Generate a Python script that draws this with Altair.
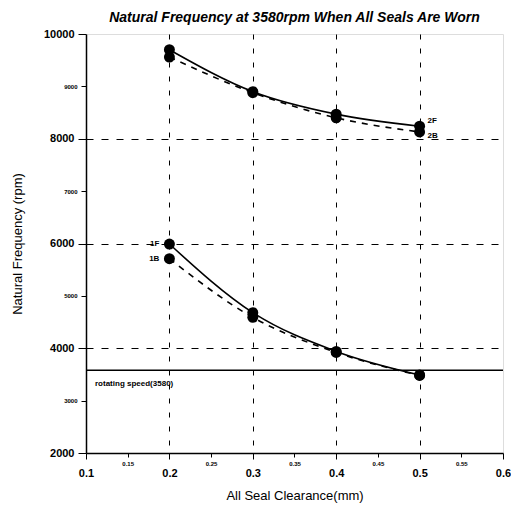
import altair as alt
import pandas as pd

clearance = [0.2, 0.3, 0.4, 0.5]
f2_forward = [9700, 8900, 8470, 8240]
f2_backward = [9560, 8880, 8400, 8130]
f1_forward = [5990, 4680, 3940, 3490]
f1_backward = [5710, 4590, 3920, 3480]
rotating_speed = 3580

x_ticks = [0.1, 0.15, 0.2, 0.25, 0.3, 0.35, 0.4, 0.45, 0.5, 0.55, 0.6]
y_ticks = [2000, 3000, 4000, 5000, 6000, 7000, 8000, 9000, 10000]

rows = []
for name, vals in [("2F", f2_forward), ("2B", f2_backward), ("1F", f1_forward), ("1B", f1_backward)]:
    for c, v in zip(clearance, vals):
        rows.append({"series": name, "x": c, "y": v})
df = pd.DataFrame(rows)

FONT = "Liberation Sans"

x_minor = "abs(datum.value*10 - round(datum.value*10)) > 0.01"
x_nogrid = "abs(datum.value*10 - round(datum.value*10)) > 0.01 || datum.value < 0.15 || datum.value > 0.55"
y_minor = "datum.value % 2000 != 0"
y_nogrid = "datum.value % 2000 != 0 || datum.value == 2000 || datum.value == 10000"

xscale = alt.Scale(domain=[0.1, 0.6], nice=False, zero=False)
yscale = alt.Scale(domain=[2000, 10000], nice=False, zero=False)

xaxis = alt.Axis(
    values=x_ticks, title="All Seal Clearance(mm)", format=".2~f",
    labelFontSize={"condition": {"test": x_minor, "value": 6}, "value": 11},
    labelPadding={"condition": {"test": x_minor, "value": 3}, "value": 8},
    labelFontWeight="bold", labelColor="black", labelFont=FONT,
    tickSize={"condition": {"test": x_minor, "value": 4}, "value": 6},
    tickColor="black", domainColor="black", domainWidth=1.5,
    grid=True, gridColor="black", gridDash=[5, 9], gridWidth=1,
    gridOpacity={"condition": {"test": x_nogrid, "value": 0}, "value": 1},
    titleFont=FONT, titleFontSize=13, titleFontWeight="normal", titleColor="black", titlePadding=11,
    labelFlush=False,
)
yaxis = alt.Axis(
    values=y_ticks, title="Natural Frequency (rpm)", format="d",
    labelFontSize={"condition": {"test": y_minor, "value": 6}, "value": 11},
    labelFontWeight="bold", labelColor="black", labelFont=FONT, labelPadding=4,
    tickSize={"condition": {"test": y_minor, "value": 5}, "value": 8},
    tickColor="black", domainColor="black", domainWidth=1.5,
    grid=True, gridColor="black", gridDash=[7, 8], gridWidth=1,
    gridOpacity={"condition": {"test": y_nogrid, "value": 0}, "value": 1},
    titleFont=FONT, titleFontSize=13, titleFontWeight="normal", titleColor="black", titlePadding=19,
    labelFlush=False,
)

base = alt.Chart(df)

solid = base.transform_filter(alt.FieldOneOfPredicate(field="series", oneOf=["2F", "1F"])).mark_line(
    color="black", strokeWidth=1.6, interpolate="monotone"
).encode(x=alt.X("x:Q", scale=xscale, axis=xaxis), y=alt.Y("y:Q", scale=yscale, axis=yaxis), detail="series:N")

dashed = base.transform_filter(alt.FieldOneOfPredicate(field="series", oneOf=["2B", "1B"])).mark_line(
    color="black", strokeWidth=1.6, strokeDash=[6, 6], interpolate="monotone"
).encode(x="x:Q", y="y:Q", detail="series:N")

pts = base.mark_circle(color="black", opacity=1, size=120).encode(x="x:Q", y="y:Q")

rot = alt.Chart(pd.DataFrame({"y": [rotating_speed]})).mark_rule(color="black", strokeWidth=1.3).encode(y="y:Q")
rot_text = alt.Chart(pd.DataFrame({"x": [0.1], "y": [rotating_speed], "t": ["rotating speed(3580)"]})).mark_text(
    align="left", baseline="middle", dx=9, dy=14, fontSize=8, fontWeight="bold", font=FONT, color="black"
).encode(x="x:Q", y="y:Q", text="t:N")

lab_df = pd.DataFrame([
    {"x": clearance[-1], "y": f2_forward[-1], "t": "2F"},
    {"x": clearance[-1], "y": f2_backward[-1], "t": "2B"},
    {"x": clearance[0], "y": f1_forward[0], "t": "1F"},
    {"x": clearance[0], "y": f1_backward[0], "t": "1B"},
])
txt_style = dict(baseline="middle", fontSize=8, fontWeight="bold", font=FONT, color="black")
lab_2f = alt.Chart(lab_df).transform_filter("datum.t == '2F'").mark_text(
    align="left", dx=8, dy=-5, **txt_style).encode(x="x:Q", y="y:Q", text="t:N")
lab_2b = alt.Chart(lab_df).transform_filter("datum.t == '2B'").mark_text(
    align="left", dx=8, dy=4, **txt_style).encode(x="x:Q", y="y:Q", text="t:N")
lab_l = alt.Chart(lab_df).transform_filter("datum.t == '1F' || datum.t == '1B'").mark_text(
    align="right", dx=-10, **txt_style).encode(x="x:Q", y="y:Q", text="t:N")

chart = alt.layer(solid, dashed, pts, rot, rot_text, lab_2f, lab_2b, lab_l).properties(
    width=417, height=419,
    title=alt.TitleParams(
        "Natural Frequency at 3580rpm When All Seals Are Worn",
        font=FONT, fontSize=14, fontWeight="bold", fontStyle="italic", color="black",
        anchor="middle", offset=3,
    ),
    autosize="none",
    padding={"left": 78, "top": 26, "right": 8, "bottom": 50},
).configure_view(stroke="black", strokeWidth=1.5).configure(background="white")

chart.save("out.html", embed_options={"renderer": "svg", "actions": False})
